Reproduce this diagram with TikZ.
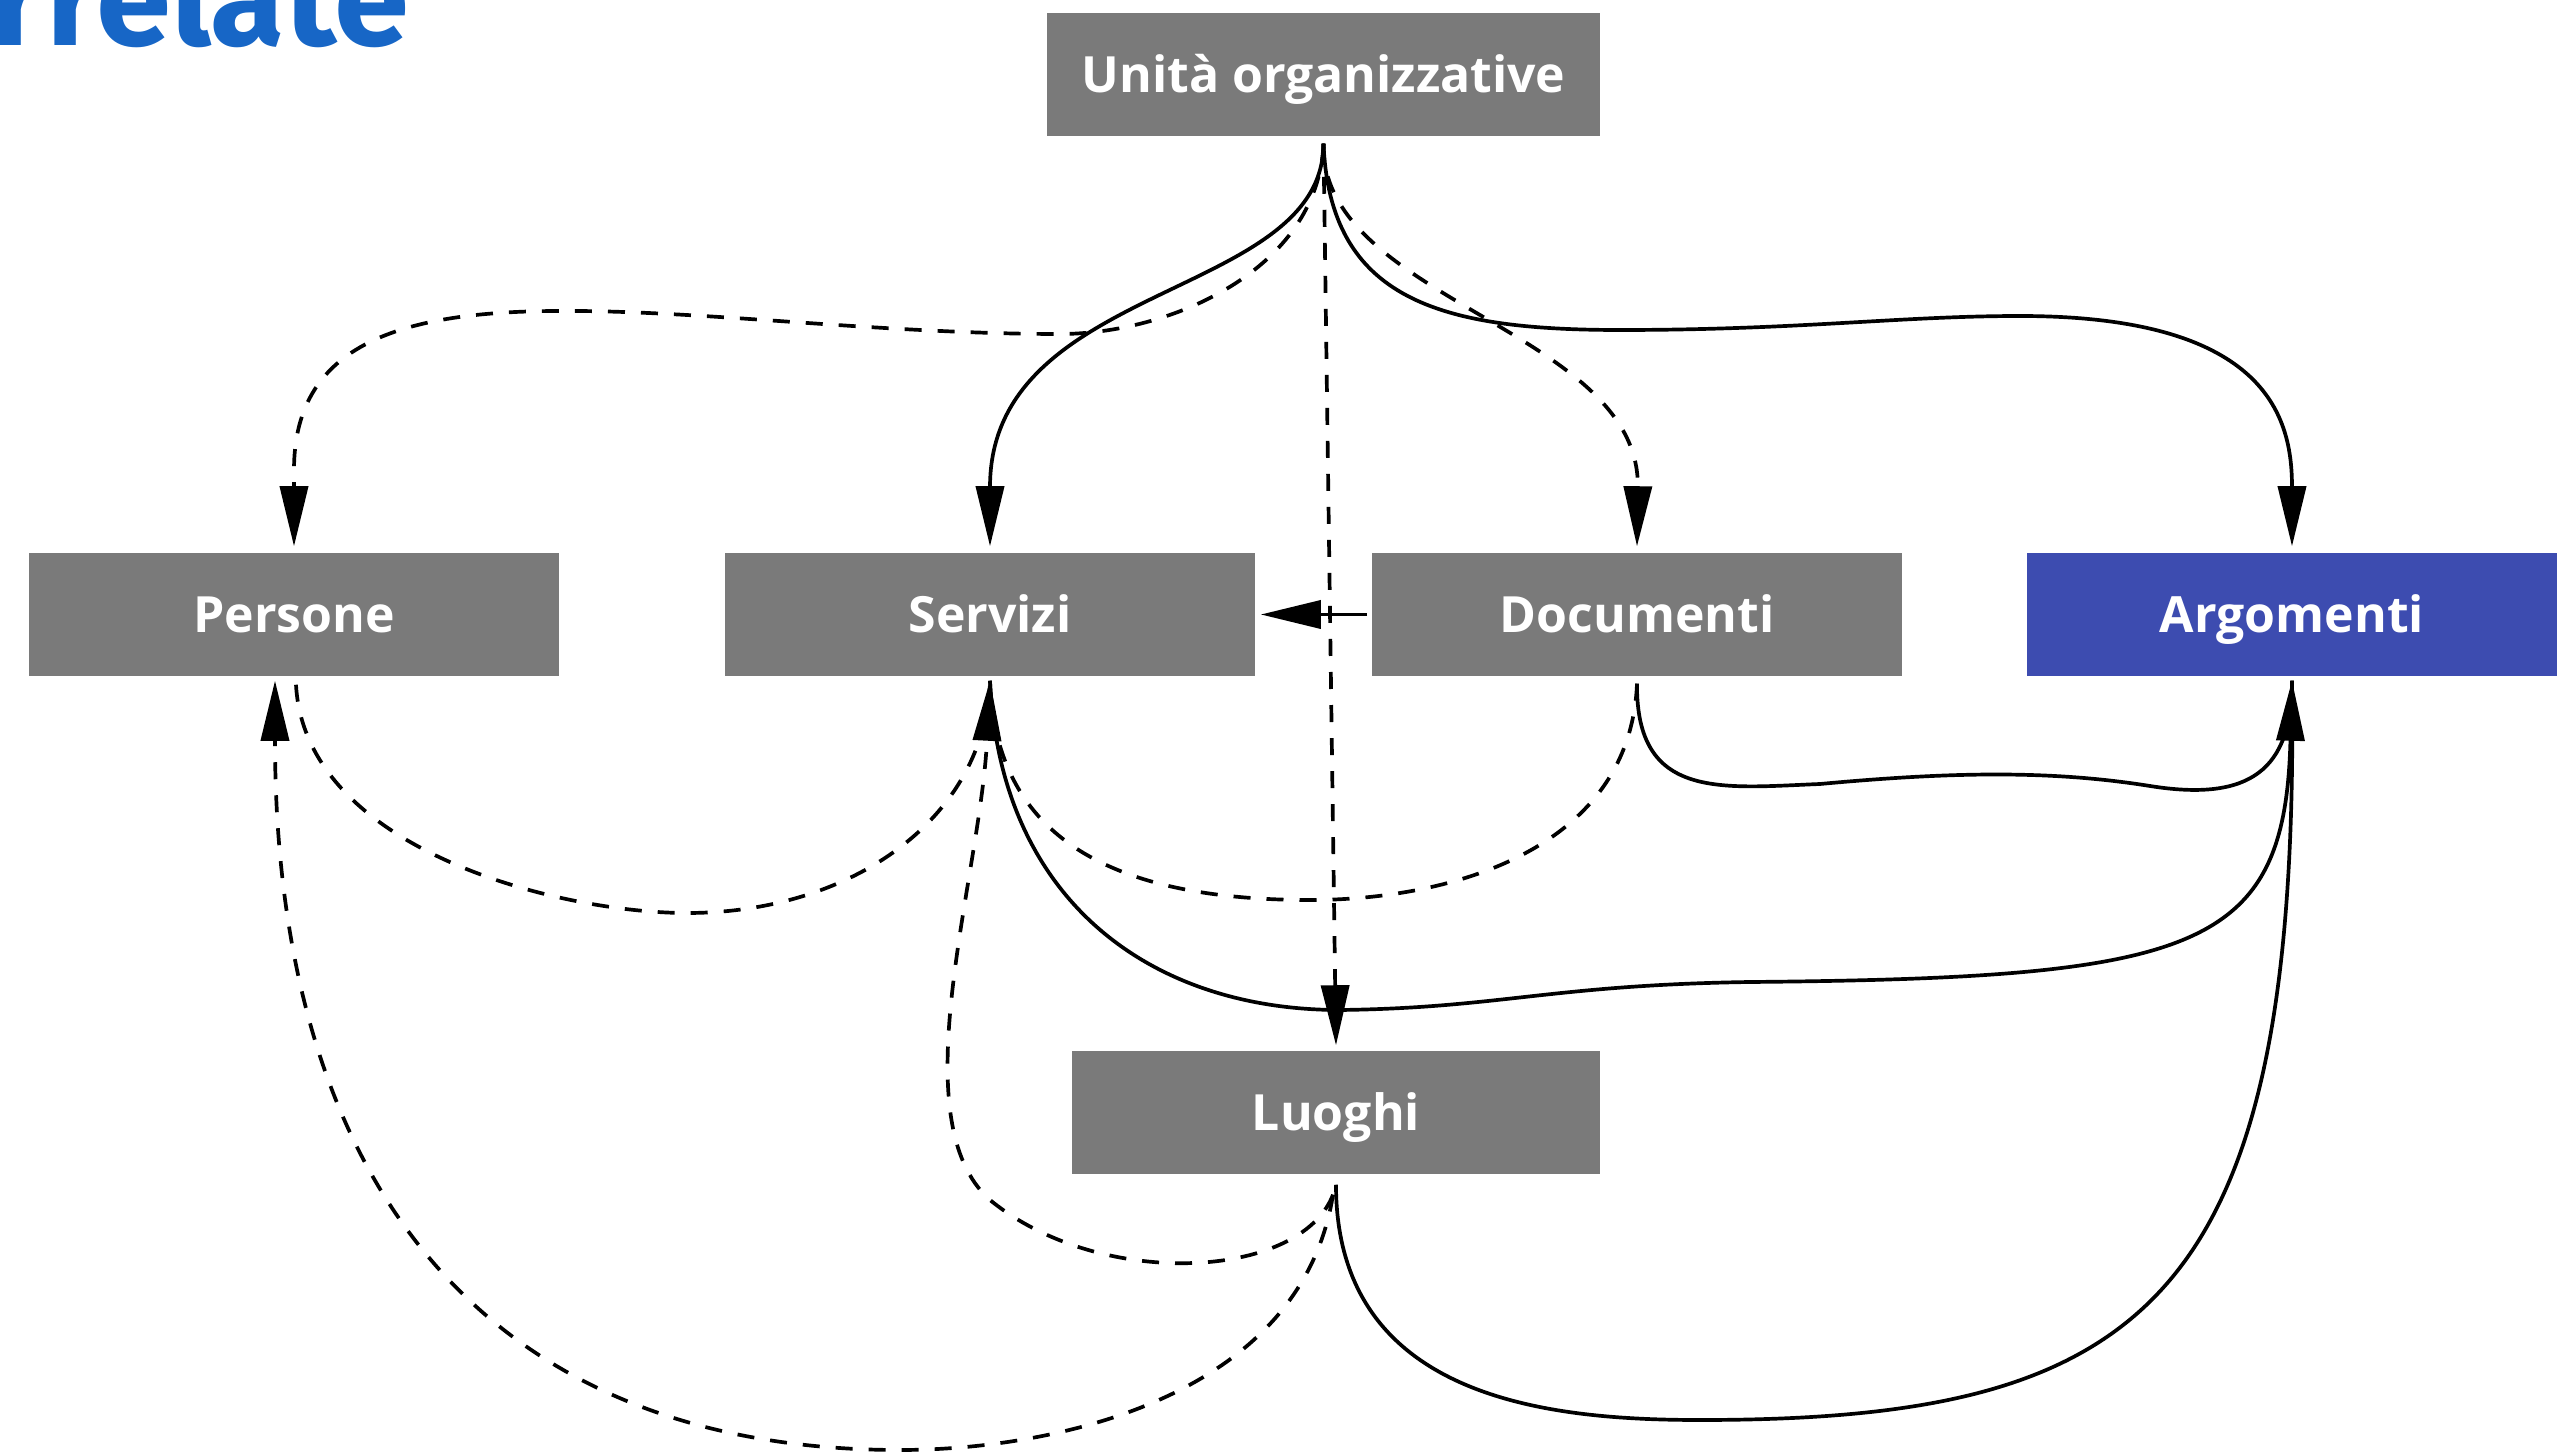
\documentclass[tikz,border=0pt]{standalone}
\usepackage{fontspec}
\setmainfont{Open Sans}
\newfontfamily\boxfont{Open Sans}
\newfontfamily\titlefont{Fira Sans}
\usetikzlibrary{arrows.meta}
\definecolor{boxgray}{RGB}{122,122,122}
\definecolor{argblue}{RGB}{61,76,176}
\definecolor{titleblue}{RGB}{23,102,198}
\begin{document}
\begin{tikzpicture}[x=0.01cm,y=-0.01cm,
  box/.style={fill=boxgray,text=white,font=\boxfont\bfseries\fontsize{14.2}{17}\selectfont,
    minimum width=5.3cm,minimum height=1.23cm,inner sep=0pt,
    text height=3.55mm,text depth=0mm},
  con/.style={line width=1.05pt,black},
  dsh/.style={con,dash pattern=on 1.7mm off 1.6mm},
  tip/.style={-{Triangle[length=6mm,width=2.8mm]}}]
\useasboundingbox (0,0) rectangle (2565,1455);
\node[anchor=base east,text=titleblue,inner sep=0pt,
  font=\titlefont\bfseries\fontsize{38.5}{38.5}\selectfont] (title) at (410,46) {rrelate};
\node[box,minimum width=5.53cm] (uo) at (1323.5,74.5) {Unità organizzative};
\node[box] (pe) at (294,614.5) {Persone};
\node[box] (se) at (990,614.5) {Servizi};
\node[box] (do) at (1637,614.5) {Documenti};
\node[box,fill=argblue] (ar) at (2292,614.5) {Argomenti};
\node[box,minimum width=5.28cm] (lu) at (1336,1112.5) {Luoghi};
% anchor points
\coordinate (hub) at ([yshift=-0.07cm]uo.south);
\coordinate (peN) at ([yshift=0.06cm]pe.north);
\coordinate (seN) at ([yshift=0.06cm]se.north);
\coordinate (doN) at ([yshift=0.06cm]do.north);
\coordinate (arN) at ([yshift=0.06cm]ar.north);
\coordinate (luN) at ([yshift=0.05cm]lu.north);
\coordinate (peB) at ([xshift=-0.19cm,yshift=-0.04cm]pe.south);
\coordinate (peB2) at ([xshift=0.02cm,yshift=-0.08cm]pe.south);
\coordinate (seB) at ([yshift=-0.04cm]se.south);
\coordinate (doB) at ([yshift=-0.07cm]do.south);
\coordinate (arB) at ([yshift=-0.04cm]ar.south);
\coordinate (luB) at ([yshift=-0.10cm]lu.south);
\coordinate (luB2) at ([xshift=-0.03cm,yshift=-0.2cm]lu.south);
\coordinate (doW) at ([xshift=-0.04cm]do.west);
\coordinate (seE) at ([xshift=0.05cm]se.east);
% from Unita organizzative
\draw[con,tip] (hub) .. controls (1323,300) and (990,280) .. (seN);
\draw[dsh,tip] (hub) .. controls (1318,270) and (1170,334) .. (1060,334)
  .. controls (880,334) and (700,310) .. (560,311)
  .. controls (390,311) and (294,350) .. (294,470) -- (peN);
\draw[dsh,tip] (hub) -- (luN);
\draw[dsh,tip] (hub) .. controls (1320,300) and (1640,330) .. (doN);
\draw[con,tip] (hub) .. controls (1330,300) and (1440,330) .. (1620,330)
  .. controls (1800,330) and (1900,316) .. (2020,316)
  .. controls (2270,316) and (2292,420) .. (arN);
% Documenti -> Servizi
\draw[con,tip] (doW) -- (seE);
% lower connectors
\draw[dsh] (peB2) .. controls (305,850) and (560,913) .. (687,913)
  .. controls (850,913) and (985,820) .. (seB);
\draw[dsh] (doB) .. controls (1630,850) and (1450,900) .. (1310,900)
  .. controls (1100,900) and (995,830) .. (seB);
\draw[con,tip] (seB) .. controls (1000,900) and (1150,1010) .. (1340,1010)
  .. controls (1500,1008) and (1550,985) .. (1750,982)
  .. controls (2200,978) and (2285,950) .. (arB);
\draw[con] (doB) .. controls (1636,800) and (1720,788) .. (1820,784)
  .. controls (1950,772) and (2050,770) .. (2150,786)
  .. controls (2250,802) and (2292,770) .. (arB);
\draw[con] (luB) .. controls (1336,1400) and (1550,1420) .. (1700,1420)
  .. controls (2150,1420) and (2300,1300) .. (arB);
\draw[dsh,tip] (luB2) .. controls (1300,1280) and (1100,1290) .. (990,1200)
  .. controls (900,1120) and (980,880) .. (seB);
\draw[dsh,tip] (luB2) .. controls (1300,1400) and (1050,1450) .. (900,1450)
  .. controls (500,1450) and (275,1200) .. (peB);
\end{tikzpicture}
\end{document}
